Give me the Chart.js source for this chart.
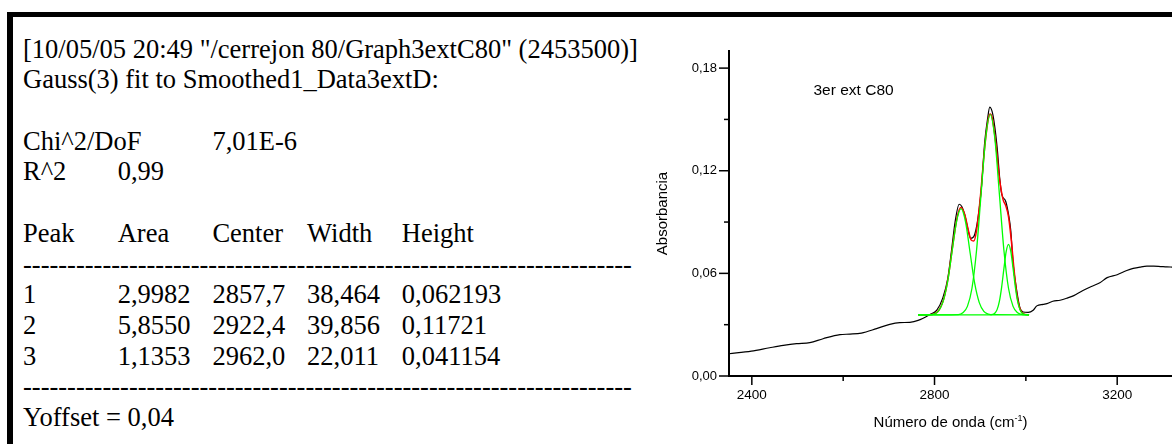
<!DOCTYPE html>
<html>
<head>
<meta charset="utf-8">
<title>Gauss(3) fit - 3er ext C80</title>
<script src="https://cdn.jsdelivr.net/npm/chart.js@4.4.1/dist/chart.umd.min.js"></script>
<style>
  html, body { margin: 0; padding: 0; background: #fff; }
  body { width: 1172px; height: 444px; overflow: hidden; position: relative; }
  #frame { position: absolute; left: 7px; top: 12px; width: 1300px; height: 600px;
           border-top: 5px solid #000; border-left: 6px solid #000; }
  #report { position: absolute; left: 23px; top: 33.7px; color: #000;
            font-family: "Liberation Serif", "Times New Roman", serif;
            font-size: 26.5px; line-height: 30.7px; white-space: pre; }
  #report .row { position: relative; height: 30.7px; }
  #report .col { position: absolute; top: 0; }
  #chartBox { position: absolute; left: 640px; top: 0; width: 532px; height: 444px; }
</style>
</head>
<body>
<div id="frame"></div>
<div id="report"></div>
<div id="chartBox"><canvas id="fitChart" width="532" height="444"></canvas></div>

<script>
// Fit report values
const reportHeader = [
  '[10/05/05 20:49 "/cerrejon 80/Graph3extC80" (2453500)]',
  'Gauss(3) fit to Smoothed1_Data3extD:'
];
const chiDof = '7,01E-6';
const rSquared = '0,99';
const yOffset = '0,04';
const peakColumns = ['Peak', 'Area', 'Center', 'Width', 'Height'];
const peakIds = ['1', '2', '3'];
const peakAreas = ['2,9982', '5,8550', '1,1353'];
const peakCenters = ['2857,7', '2922,4', '2962,0'];
const peakWidths = ['38,464', '39,856', '22,011'];
const peakHeights = ['0,062193', '0,11721', '0,041154'];

// Measured spectrum (black)
const specX = [2350, 2399, 2439, 2469, 2498, 2527, 2556, 2593, 2615, 2640, 2673, 2702, 2724, 2746, 2764,
  2790, 2805, 2818, 2829, 2838, 2845, 2854, 2860, 2867, 2873, 2879, 2886, 2895, 2903, 2910, 2916, 2921,
  2928, 2937, 2943, 2947, 2956, 2963, 2967, 2972, 2980, 2987, 2994, 3005, 3016, 3024, 3038, 3046, 3059,
  3075, 3090, 3105, 3125, 3145, 3162, 3178, 3200, 3221, 3235, 3250, 3265, 3280, 3295, 3309, 3320];
const specY = [0.0130, 0.0145, 0.0165, 0.0179, 0.0189, 0.0195, 0.0218, 0.0242, 0.0245, 0.0251, 0.0277,
  0.0302, 0.0312, 0.0314, 0.0325, 0.0360, 0.0385, 0.0455, 0.0570, 0.0750, 0.0900, 0.1004, 0.0990, 0.0935,
  0.0860, 0.0805, 0.0815, 0.0920, 0.1110, 0.1370, 0.1500, 0.1572, 0.1525, 0.1340, 0.1150, 0.1065, 0.1020,
  0.0930, 0.0850, 0.0660, 0.0500, 0.0400, 0.0374, 0.0372, 0.0384, 0.0410, 0.0419, 0.0423, 0.0437, 0.0443,
  0.0455, 0.0470, 0.0500, 0.0525, 0.0545, 0.0575, 0.0592, 0.0617, 0.0629, 0.0637, 0.0642, 0.0642, 0.0640,
  0.0638, 0.0637];

// Cumulative fit (red)
const fitX = [2764, 2790, 2800, 2810, 2820, 2830, 2840, 2850, 2858, 2866, 2874, 2880, 2886, 2892, 2900,
  2910, 2918, 2922, 2926, 2934, 2942, 2950, 2956, 2962, 2968, 2974, 2980, 2986, 2994, 3007];
const fitY = [0.0357, 0.0358, 0.0364, 0.0386, 0.0448, 0.0577, 0.0765, 0.0933, 0.0985, 0.0945, 0.0853,
  0.0796, 0.0789, 0.0850, 0.1036, 0.1339, 0.1506, 0.1532, 0.1513, 0.1363, 0.1159, 0.1033, 0.0995, 0.0932,
  0.0797, 0.0625, 0.0483, 0.0402, 0.0365, 0.0357];

// Gaussian components (green)
const peak1X = [2764, 2788, 2798, 2808, 2818, 2828, 2838, 2848, 2858, 2868, 2878, 2888, 2898, 2908, 2918, 2928, 3007];
const peak1Y = [0.0357, 0.0358, 0.0362, 0.0378, 0.0429, 0.0541, 0.0719, 0.0900, 0.0979, 0.0900, 0.0719,
  0.0541, 0.0429, 0.0378, 0.0362, 0.0358, 0.0357];
const peak2X = [2764, 2852, 2862, 2872, 2882, 2892, 2902, 2912, 2922, 2932, 2942, 2952, 2962, 2972, 2982, 2992, 3007];
const peak2Y = [0.0357, 0.0359, 0.0370, 0.0407, 0.0513, 0.0734, 0.1065, 0.1390, 0.1529, 0.1390, 0.1065,
  0.0734, 0.0513, 0.0407, 0.0370, 0.0359, 0.0357];
const peak3X = [2764, 2922, 2927, 2932, 2937, 2942, 2947, 2952, 2957, 2962, 2967, 2972, 2977, 2982, 2987, 2992, 2997, 3007];
const peak3Y = [0.0357, 0.0357, 0.0360, 0.0367, 0.0388, 0.0436, 0.0520, 0.0629, 0.0728, 0.0769, 0.0728,
  0.0629, 0.0520, 0.0436, 0.0388, 0.0367, 0.0360, 0.0357];

// Axis ticks
const xTickValues = [2400, 2600, 2800, 3000, 3200];
const xMajor = [2400, 2800, 3200];
const xTickLabels = ['2400', '2800', '3200'];
const yTickValues = [0, 0.03, 0.06, 0.09, 0.12, 0.15, 0.18];
const yMajor = [0, 0.06, 0.12, 0.18];
const yTickLabels = ['0,00', '0,06', '0,12', '0,18'];
const plotLabel = '3er ext C80';

const SANS = '"Liberation Sans", Arial, sans-serif';

// Render the text report on the left
function renderReport() {
  const tab = 94.7;
  const dashes = '-'.repeat(69);
  const rows = [
    [reportHeader[0]],
    [reportHeader[1]],
    [],
    ['Chi^2/DoF', '', chiDof],
    ['R^2', rSquared],
    [],
    peakColumns,
    [dashes]
  ];
  peakIds.forEach((id, i) => {
    rows.push([id, peakAreas[i], peakCenters[i], peakWidths[i], peakHeights[i]]);
  });
  rows.push([dashes]);
  rows.push(['Yoffset = ' + yOffset]);

  const report = document.getElementById('report');
  rows.forEach(cells => {
    const row = document.createElement('div');
    row.className = 'row';
    cells.forEach((text, c) => {
      if (!text) return;
      const span = document.createElement('span');
      span.className = 'col';
      span.style.left = (c * tab) + 'px';
      span.textContent = text;
      row.appendChild(span);
    });
    report.appendChild(row);
  });
}

function toPoints(xs, ys) {
  return xs.map((x, i) => ({ x, y: ys[i] }));
}

function isMajor(list, v) {
  return list.some(m => Math.abs(m - v) < 1e-6);
}

// Origin style tick marks (outward, long major / short minor)
const tickMarks = {
  id: 'tickMarks',
  afterDraw(chart) {
    const { ctx, chartArea, scales } = chart;
    ctx.save();
    ctx.strokeStyle = '#000';
    ctx.lineWidth = 1.5;
    scales.x.ticks.forEach(t => {
      const px = scales.x.getPixelForValue(t.value);
      const len = isMajor(xMajor, t.value) ? 9 : 5;
      ctx.beginPath();
      ctx.moveTo(px, chartArea.bottom);
      ctx.lineTo(px, chartArea.bottom + len);
      ctx.stroke();
    });
    scales.y.ticks.forEach(t => {
      const py = scales.y.getPixelForValue(t.value);
      const len = isMajor(yMajor, t.value) ? 10 : 5;
      ctx.beginPath();
      ctx.moveTo(chartArea.left, py);
      ctx.lineTo(chartArea.left - len, py);
      ctx.stroke();
    });
    ctx.restore();
  }
};

// X title with superscript and the sample label
const extraText = {
  id: 'extraText',
  afterDraw(chart) {
    const { ctx, chartArea, scales } = chart;
    ctx.save();
    ctx.fillStyle = '#000';
    ctx.textBaseline = 'alphabetic';
    ctx.textAlign = 'left';

    const main = 'Número de onda (cm';
    const sup = '-1';
    const tail = ')';
    ctx.font = '15px ' + SANS;
    const w1 = ctx.measureText(main).width;
    const w3 = ctx.measureText(tail).width;
    ctx.font = '9px ' + SANS;
    const w2 = ctx.measureText(sup).width;
    let x = (chartArea.left + chartArea.right) / 2 - (w1 + w2 + w3) / 2;
    const base = 427;
    ctx.font = '15px ' + SANS;
    ctx.fillText(main, x, base);
    x += w1;
    ctx.font = '9px ' + SANS;
    ctx.fillText(sup, x, base - 6);
    x += w2;
    ctx.font = '15px ' + SANS;
    ctx.fillText(tail, x, base);

    ctx.textBaseline = 'middle';
    ctx.font = '15.5px ' + SANS;
    ctx.fillText(plotLabel, scales.x.getPixelForValue(2535), scales.y.getPixelForValue(0.167));
    ctx.restore();
  }
};

function lineSet(label, xs, ys, color, width, order) {
  return {
    label,
    data: toPoints(xs, ys),
    borderColor: color,
    borderWidth: width,
    pointRadius: 0,
    fill: false,
    cubicInterpolationMode: 'monotone',
    order
  };
}

// Render the spectrum chart
function renderChart() {
  const canvas = document.getElementById('fitChart');
  new Chart(canvas, {
    type: 'line',
    data: {
      datasets: [
        lineSet('Peak 1', peak1X, peak1Y, '#00ff00', 1.3, 0),
        lineSet('Peak 2', peak2X, peak2Y, '#00ff00', 1.3, 0),
        lineSet('Peak 3', peak3X, peak3Y, '#00ff00', 1.3, 0),
        lineSet('Fit', fitX, fitY, '#ff0000', 1.5, 1),
        lineSet('3er ext C80', specX, specY, '#000000', 1.2, 2)
      ]
    },
    options: {
      responsive: false,
      animation: false,
      devicePixelRatio: 1,
      layout: { padding: { top: 51, left: 0, right: 0, bottom: 0 } },
      plugins: { legend: { display: false }, tooltip: { enabled: false } },
      scales: {
        x: {
          type: 'linear',
          min: 2350,
          max: 3320,
          afterBuildTicks: scale => { scale.ticks = xTickValues.map(v => ({ value: v })); },
          afterFit: scale => { scale.height = 68; },
          grid: { display: false, drawTicks: false },
          border: { display: true, color: '#000', width: 2 },
          ticks: {
            padding: 11,
            maxRotation: 0,
            autoSkip: false,
            color: '#000',
            font: { family: SANS, size: 13.5 },
            callback: v => {
              const i = xMajor.indexOf(v);
              return i >= 0 ? xTickLabels[i] : '';
            }
          }
        },
        y: {
          min: 0,
          max: 0.19,
          afterBuildTicks: scale => { scale.ticks = yTickValues.map(v => ({ value: v })); },
          afterFit: scale => { scale.width = 89; },
          grid: { display: false, drawTicks: false },
          border: { display: true, color: '#000', width: 2 },
          title: {
            display: true,
            text: 'Absorbancia',
            color: '#000',
            font: { family: SANS, size: 15 },
            padding: { top: 14, bottom: 0 }
          },
          ticks: {
            padding: 12,
            autoSkip: false,
            color: '#000',
            font: { family: SANS, size: 13 },
            callback: v => {
              const i = yMajor.findIndex(m => Math.abs(m - v) < 1e-6);
              return i >= 0 ? yTickLabels[i] : '';
            }
          }
        }
      }
    },
    plugins: [tickMarks, extraText]
  });
}

document.addEventListener('DOMContentLoaded', () => {
  renderReport();
  renderChart();
});
</script>
</body>
</html>
